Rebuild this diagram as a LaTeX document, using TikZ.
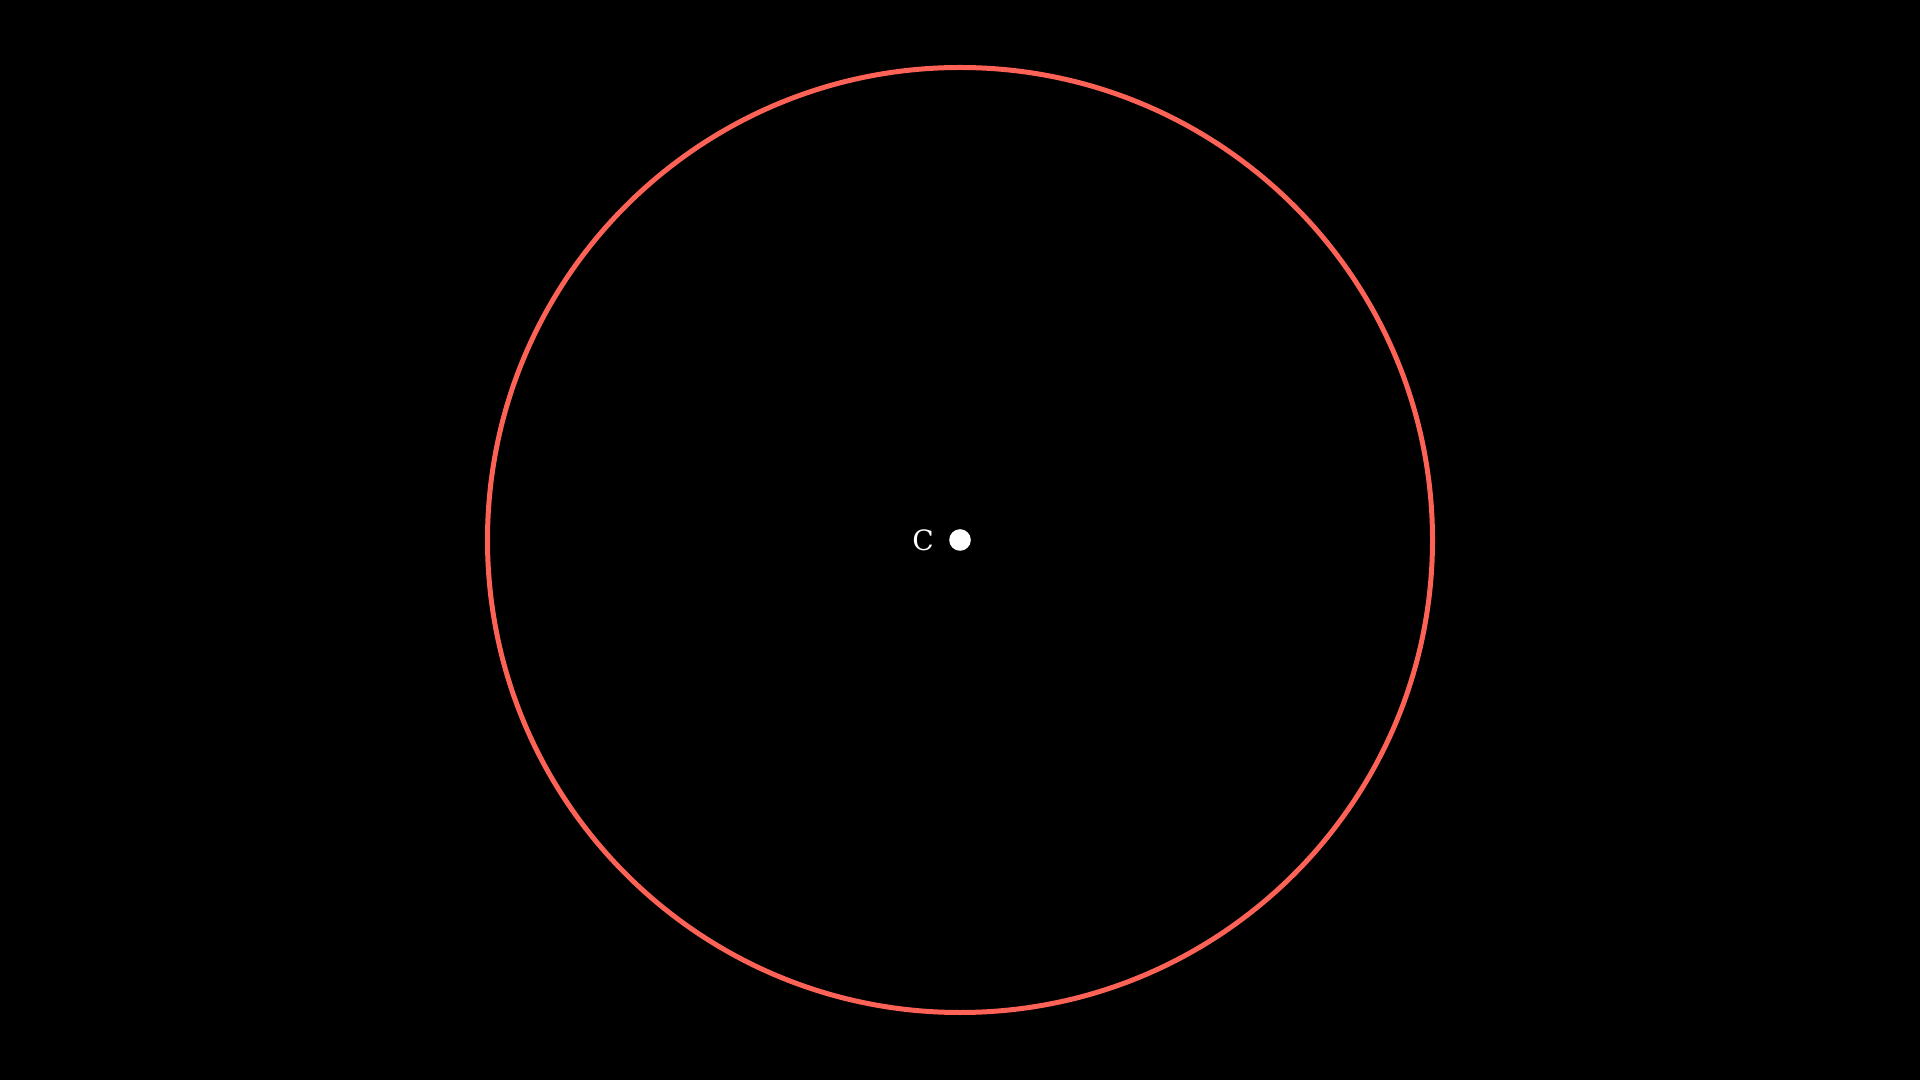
\documentclass[tikz,border=0pt]{standalone}
\usepackage{fontspec}
\setmainfont{DejaVu Serif}
\definecolor{mred}{HTML}{FC6255}
\begin{document}
\begin{tikzpicture}[x=1pt,y=1pt,
  ring/.style={draw=mred,line width=5pt},
  dotstyle/.style={circle,fill=white,inner sep=0pt,minimum size=21.6pt},
  lbl/.style={text=white,font=\fontsize{28}{33}\selectfont,inner sep=0pt}]
\fill[black] (0,0) rectangle (1920,1080);
\useasboundingbox (0,0) rectangle (1920,1080);
\draw[ring] (960,540) circle (472.5);
\node[dotstyle] (c) at (960,540) {};
\node[lbl] (cl) at (923,540) {C};
\end{tikzpicture}
\end{document}
